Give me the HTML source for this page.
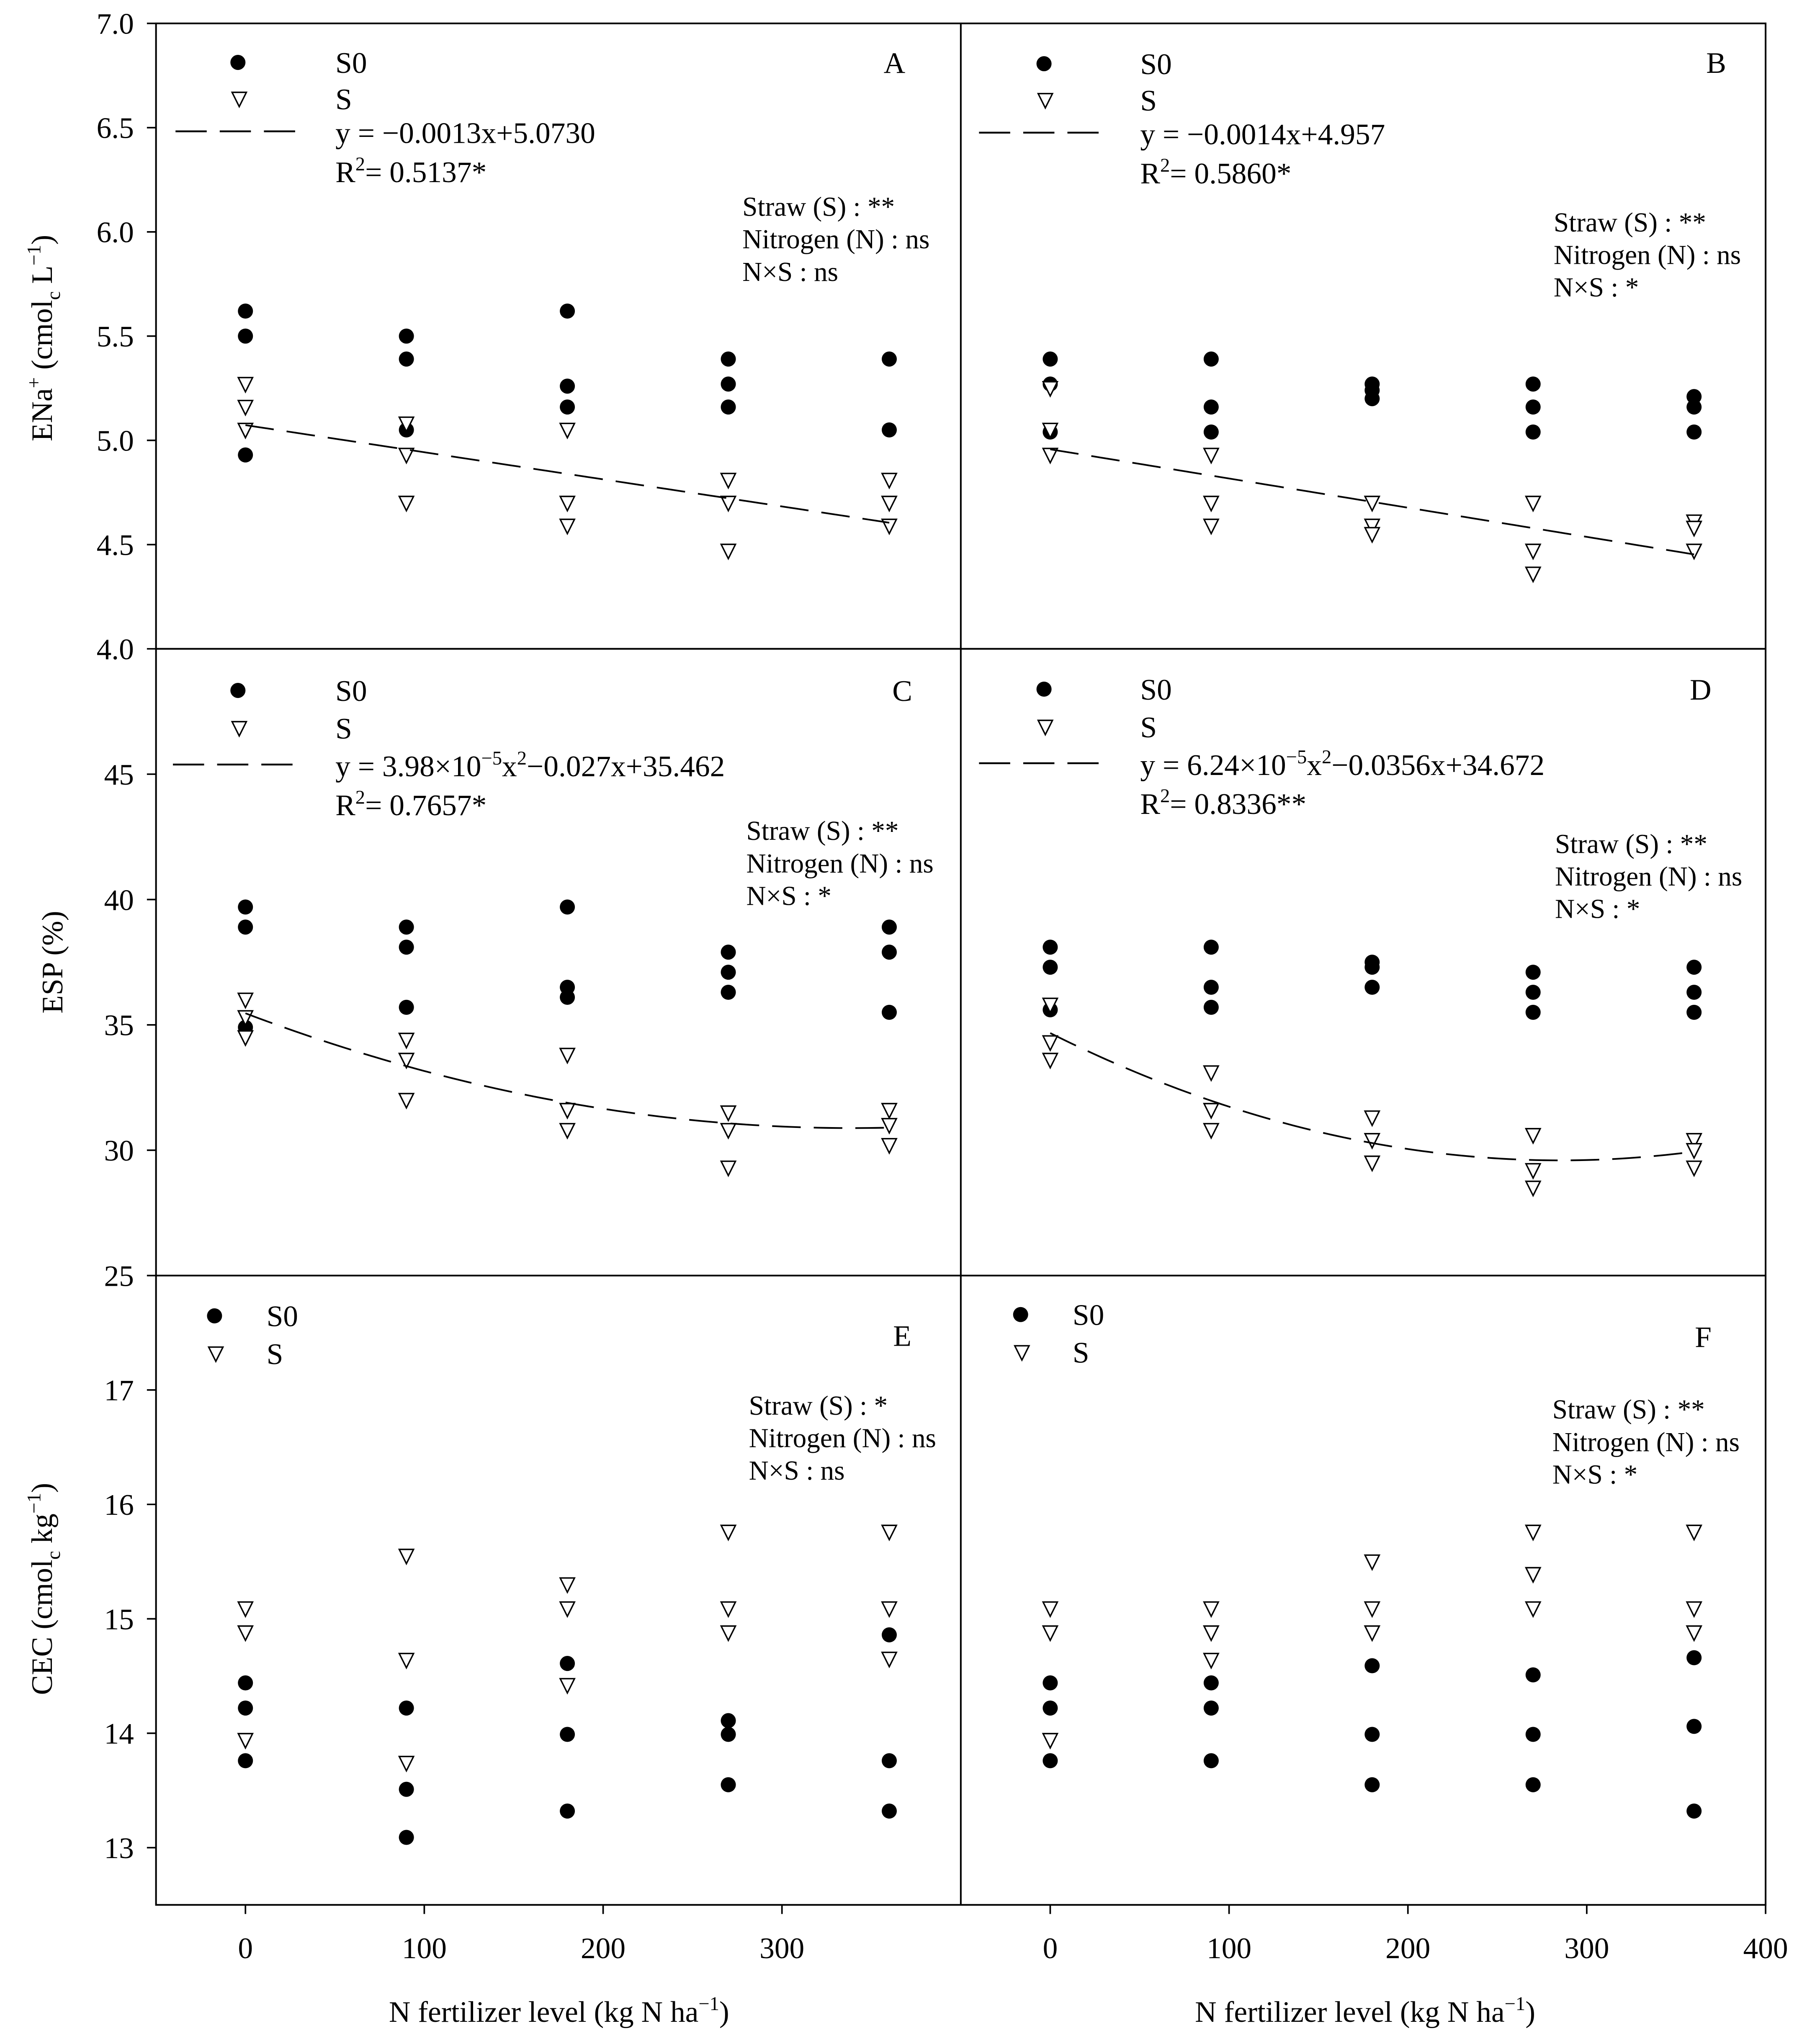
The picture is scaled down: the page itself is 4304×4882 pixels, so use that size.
<!DOCTYPE html>
<html><head><meta charset="utf-8"><style>
html,body{margin:0;padding:0;background:#fff}
svg{display:block}
svg text{font-family:"Liberation Serif","DejaVu Serif",serif;fill:#000}
</style></head><body>
<svg id="chart" width="4304" height="4882" viewBox="0 0 1386 1572" preserveAspectRatio="none" font-family="'Liberation Serif', serif" xmlns="http://www.w3.org/2000/svg">
<g id="root" font-family="'Liberation Serif', serif"></g>
</svg>
<script>
const xLevels=[0,90,180,270,360];
const aS0=[[5.62,5.50,4.93],[5.50,5.39,5.05],[5.62,5.26,5.16],[5.39,5.27,5.16],[5.39,5.05]];
const aS=[[5.27,5.16,5.05],[5.08,4.93,4.70],[5.05,4.70,4.59],[4.81,4.70,4.47],[4.81,4.70,4.59]];
const bS0=[[5.39,5.27,5.04],[5.39,5.16,5.04],[5.27,5.24,5.20],[5.27,5.16,5.04],[5.21,5.16,5.04]];
const bS=[[5.25,5.05,4.93],[4.93,4.70,4.59],[4.70,4.59,4.55],[4.70,4.47,4.36],[4.61,4.58,4.47]];
const cS0=[[39.7,38.9,34.9],[38.9,38.1,35.7],[39.7,36.5,36.1],[37.9,37.1,36.3],[38.9,37.9,35.5]];
const cS=[[36.0,35.3,34.5],[34.4,33.6,32.0],[33.8,31.6,30.8],[31.5,30.8,29.3],[31.6,31.0,30.2]];
const dS0=[[38.1,37.3,35.6],[38.1,36.5,35.7],[37.5,37.3,36.5],[37.1,36.3,35.5],[37.3,36.3,35.5]];
const dS=[[35.8,34.3,33.6],[33.1,31.6,30.8],[31.3,30.4,29.5],[30.6,29.2,28.5],[30.4,30.0,29.3]];
const eS0=[[14.44,14.22,13.76],[14.22,13.51,13.09],[14.61,13.99,13.32],[14.11,13.99,13.55],[14.86,13.76,13.32]];
const eS=[[15.09,14.88,13.94],[15.55,14.64,13.74],[15.30,15.09,14.42],[15.76,15.09,14.88],[15.76,15.09,14.65]];
const fS0=[[14.44,14.22,13.76],[14.44,14.22,13.76],[14.59,13.99,13.55],[14.51,13.99,13.55],[14.66,14.06,13.32]];
const fS=[[15.09,14.88,13.94],[15.09,14.88,14.64],[15.50,15.09,14.88],[15.76,15.39,15.09],[15.76,15.09,14.88]];
const fitA=[5.0730,-0.0013,0];
const fitB=[4.957,-0.0014,0];
const fitC=[35.462,-0.027,3.98e-5];
const fitD=[34.672,-0.0356,6.24e-5];
const yTicksA=[4.0,4.5,5.0,5.5,6.0,6.5,7.0];
const yTicksC=[25,30,35,40,45];
const yTicksE=[13,14,15,16,17];
const xTicksL=[0,100,200,300];
const xTicksR=[0,100,200,300,400];

const NS="http://www.w3.org/2000/svg";
const root=document.getElementById('root');
function el(tag,attrs,parent,txt){const e=document.createElementNS(NS,tag);for(const k in attrs)e.setAttribute(k,attrs[k]);if(tag==='text')e.setAttribute('font-family',"'Liberation Serif', serif");if(txt!==undefined)e.textContent=txt;(parent||root).appendChild(e);return e;}

const rows=[{top:18,bot:499,min:4,max:7},{top:499,bot:981,min:25,max:50},{top:981,bot:1465,min:12.5,max:18}];
const cols=[{l:120,r:739},{l:739,r:1358}];
function sx(c,v){return cols[c].l+(v+50)/450*(cols[c].r-cols[c].l);}
function sy(r,v){const R=rows[r];return R.bot-(v-R.min)/(R.max-R.min)*(R.bot-R.top);}

const frame=el('g',{},root);

el('rect',{x:120,y:18,width:1238,height:1447,fill:'none',stroke:'#000','stroke-width':1.3},frame);
el('line',{x1:739,y1:18,x2:739,y2:1465,stroke:'#000','stroke-width':1.3},frame);
el('line',{x1:120,y1:499,x2:1358,y2:499,stroke:'#000','stroke-width':1.3},frame);
el('line',{x1:120,y1:981,x2:1358,y2:981,stroke:'#000','stroke-width':1.3},frame);

function yAxis(r,ticks,dec,name){
  const g=el('g',{},root);
  
  ticks.forEach(t=>{const y=sy(r,t);
    el('line',{x1:113,y1:y,x2:120,y2:y,stroke:'#000','stroke-width':1.2},g);
    el('text',{x:103,y:y+8,'font-size':23,'text-anchor':'end'},g,t.toFixed(dec));});
}
yAxis(0,yTicksA,1,'y-axis-ena');yAxis(1,yTicksC,0,'y-axis-esp');yAxis(2,yTicksE,0,'y-axis-cec');
function xAxis(c,ticks,name){
  const g=el('g',{},root);
  
  ticks.forEach(t=>{const x=sx(c,t);
    el('line',{x1:x,y1:1465,x2:x,y2:1472,stroke:'#000','stroke-width':1.2},g);
    el('text',{x:x,y:1506,'font-size':23,'text-anchor':'middle'},g,String(t));});
}
xAxis(0,xTicksL,'x-axis-left');xAxis(1,xTicksR,'x-axis-right');

let t=el('text',{x:0,y:0,'font-size':23,'text-anchor':'middle',transform:'translate(40,260) rotate(-90)'});

t.innerHTML='ENa<tspan dy="-9" font-size="15">+</tspan><tspan dy="9"> (cmol</tspan><tspan dy="6" font-size="15">c</tspan><tspan dy="-6"> L</tspan><tspan dy="-9" font-size="15">−1</tspan><tspan dy="9">)</tspan>';
t=el('text',{x:0,y:0,'font-size':23,'text-anchor':'middle',transform:'translate(48,740) rotate(-90)'},root,'ESP (%)');

t=el('text',{x:0,y:0,'font-size':23,'text-anchor':'middle',transform:'translate(40,1222) rotate(-90)'});

t.innerHTML='CEC (cmol<tspan dy="6" font-size="15">c</tspan><tspan dy="-6"> kg</tspan><tspan dy="-9" font-size="15">−1</tspan><tspan dy="9">)</tspan>';
[[430,'x-axis-title-left'],[1050,'x-axis-title-right']].forEach(([x,n])=>{
  const tt=el('text',{x:x,y:1555,'font-size':23,'text-anchor':'middle'});
  
  tt.innerHTML='N fertilizer level (kg N ha<tspan dy="-9" font-size="15">−1</tspan><tspan dy="9">)</tspan>';
});

function circ(g,x,y){el('circle',{cx:x,cy:y,r:5.8,fill:'#000'},g);}
function tri(g,x,y){el('path',{d:`M${x-5.5},${y-5} L${x+5.5},${y-5} L${x},${y+6} Z`,fill:'#fff',stroke:'#000','stroke-width':1.1},g);}

function series(c,r,data,kind,name){
  const g=el('g',{},root);
  
  data.forEach((vals,i)=>vals.forEach(v=>{const x=sx(c,xLevels[i]),y=sy(r,v);kind==='c'?circ(g,x,y):tri(g,x,y);}));
}
function fit(c,r,co,name){
  let d='';for(let x=0;x<=360;x+=4){const v=co[0]+co[1]*x+co[2]*x*x;d+=(x?'L':'M')+sx(c,x).toFixed(2)+','+sy(r,v).toFixed(2);}
  const p=el('path',{d:d,fill:'none',stroke:'#000','stroke-width':1.3,'stroke-dasharray':'22,10'});
  
}
series(0,0,aS0,'c','a-s0-points');series(0,0,aS,'t','a-s-points');fit(0,0,fitA,'a-fit-line');
series(1,0,bS0,'c','b-s0-points');series(1,0,bS,'t','b-s-points');fit(1,0,fitB,'b-fit-line');
series(0,1,cS0,'c','c-s0-points');series(0,1,cS,'t','c-s-points');fit(0,1,fitC,'c-fit-line');
series(1,1,dS0,'c','d-s0-points');series(1,1,dS,'t','d-s-points');fit(1,1,fitD,'d-fit-line');
series(0,2,eS0,'c','e-s0-points');series(0,2,eS,'t','e-s-points');
series(1,2,fS0,'c','f-s0-points');series(1,2,fS,'t','f-s-points');

function legend(name,mx,ty,dy,tx,dash,eq,r2){
  const g=el('g',{},root);
  
  circ(g,mx,ty);el('text',{x:tx,y:ty+8,'font-size':23},g,'S0');
  tri(g,mx+1,ty+dy);el('text',{x:tx,y:ty+dy+8,'font-size':23},g,'S');
  if(dash){
    el('line',{x1:dash[0],y1:dash[2],x2:dash[1],y2:dash[2],stroke:'#000','stroke-width':1.4,'stroke-dasharray':'24,10'},g);
    const e=el('text',{x:tx,y:dash[2]+9,'font-size':23},g);e.innerHTML=eq;
    const rr=el('text',{x:tx,y:dash[2]+39,'font-size':23},g);rr.innerHTML='R<tspan dy="-9" font-size="15">2</tspan><tspan dy="9">= '+r2+'</tspan>';
  }
}
legend('legend-a',183,48,28,258,[135,228,101],'y = −0.0013x+5.0730','0.5137*');
legend('legend-b',803,49,28,877,[753,845,102],'y = −0.0014x+4.957','0.5860*');
legend('legend-c',183,531,29,258,[133,225,588],'y = 3.98×10<tspan dy="-9" font-size="15">−5</tspan><tspan dy="9">x</tspan><tspan dy="-9" font-size="15">2</tspan><tspan dy="9">−0.027x+35.462</tspan>','0.7657*');
legend('legend-d',803,530,29,877,[753,845,587],'y = 6.24×10<tspan dy="-9" font-size="15">−5</tspan><tspan dy="9">x</tspan><tspan dy="-9" font-size="15">2</tspan><tspan dy="9">−0.0356x+34.672</tspan>','0.8336**');
legend('legend-e',165,1012,29,205,null);
legend('legend-f',785,1011,29,825,null);

function stats(name,x,y,s,n,ns){
  const g=el('g',{},root);
  
  el('text',{x:x,y:y+8,'font-size':21},g,'Straw (S) : '+s);
  el('text',{x:x,y:y+33,'font-size':21},g,'Nitrogen (N) : '+n);
  el('text',{x:x,y:y+58,'font-size':21},g,'N×S : '+ns);
}
stats('stats-a',571,158,'**','ns','ns');
stats('stats-b',1195,170,'**','ns','*');
stats('stats-c',574,638,'**','ns','*');
stats('stats-d',1196,648,'**','ns','*');
stats('stats-e',576,1080,'*','ns','ns');
stats('stats-f',1194,1083,'**','ns','*');

[['A',688,48],['B',1320,48],['C',694,531],['D',1308,530],['E',694,1027],['F',1310,1028]].forEach(([L,x,y])=>{
  const tt=el('text',{x:x,y:y+8,'font-size':23,'text-anchor':'middle'},root,L);
  
});
</script>
</body></html>
